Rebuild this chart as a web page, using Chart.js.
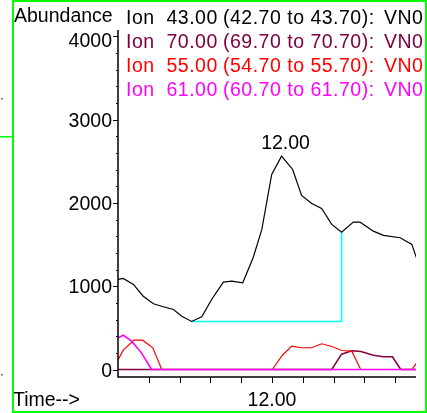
<!DOCTYPE html>
<html>
<head>
<meta charset="utf-8">
<script src="https://cdn.jsdelivr.net/npm/chart.js@4"></script>
<style>
    html, body { margin: 0; padding: 0; background: #fff; }
    canvas { display: block; }
</style>
</head>
<body>
<canvas id="tic" width="427" height="413"></canvas>
<script>
// ion 43.00 trace
var time43 = [11.500, 11.517, 11.550, 11.582, 11.615, 11.647, 11.680, 11.707, 11.739, 11.772, 11.804,
    11.842, 11.869, 11.905, 11.939, 11.967, 11.999, 12.031, 12.067, 12.096, 12.129, 12.161,
    12.194, 12.226, 12.264, 12.286, 12.329, 12.362, 12.416, 12.454, 12.470];
var abund43 = [1081, 1093, 1021, 880, 789, 753, 721, 640, 577, 633, 841,
    1049, 1061, 1041, 1345, 1682, 2342, 2562, 2402, 2090, 1994, 1934,
    1742, 1649, 1769, 1769, 1661, 1610, 1582, 1502, 1330];

// ion 70.00 trace
var time70 = [11.500, 12.194, 12.226, 12.259, 12.289, 12.329, 12.362, 12.391, 12.418, 12.470];
var abund70 = [0, 0, 184, 224, 216, 172, 152, 152, 0, 0];

// ion 55.00 trace
var time55 = [11.501, 11.517, 11.552, 11.580, 11.613, 11.642, 12.001, 12.033, 12.064, 12.096,
    12.129, 12.161, 12.194, 12.226, 12.259, 12.288, 12.454, 12.470];
var abund55 = [120, 232, 352, 352, 261, 0, 0, 168, 280, 261,
    261, 309, 276, 228, 220, 0, 0, 80];

// ion 61.00 trace
var time61 = [11.501, 11.517, 11.544, 11.576, 11.609, 12.470];
var abund61 = [381, 412, 340, 200, 0, 0];

// integration baseline of the peak
var baseTime = [11.739, 12.226, 12.226];
var baseAbund = [577, 577, 1649];

var peakTime = 12.031;
var peakAbund = 2562;
var peakLabel = '12.00';

var yTickLabels = [0, 1000, 2000, 3000, 4000];
var yMinorStep = 200;
var xTicks = [11.6, 11.7, 11.8, 11.9, 12.0, 12.1, 12.2, 12.3, 12.4];
var xTickLabels = [12.0];

var ionNames = ['43.00', '70.00', '55.00', '61.00'];
var ionRanges = ['(42.70 to 43.70):', '(69.70 to 70.70):', '(54.70 to 55.70):', '(60.70 to 61.70):'];
var ionColors = ['#000000', '#800040', '#ff0000', '#ff00ff'];

var FONT = '19.5px "Liberation Sans", Arial, sans-serif';

function toPoints(xs, ys) {
    var pts = [];
    for (var i = 0; i < xs.length; i++) {
        pts.push({ x: xs[i], y: ys[i] });
    }
    return pts;
}

var drawFrame = {
    id: 'drawFrame',
    afterDraw: function (chart) {
        var ctx = chart.ctx;
        var xs = chart.scales.x;
        var ys = chart.scales.y;
        var area = chart.chartArea;
        var i, px, py;

        ctx.save();

        // axes lines
        ctx.strokeStyle = '#000';
        ctx.lineWidth = 1.5;
        ctx.beginPath();
        ctx.moveTo(area.left, area.top);
        ctx.lineTo(area.left, area.bottom);
        ctx.lineTo(area.right, area.bottom);
        ctx.stroke();

        // y ticks, minor every 200, major at labels
        ctx.lineWidth = 1;
        ctx.beginPath();
        for (var v = 0; v <= yTickLabels[yTickLabels.length - 1]; v += yMinorStep) {
            py = Math.round(ys.getPixelForValue(v)) + 0.5;
            var len = (yTickLabels.indexOf(v) >= 0) ? 5 : 2;
            ctx.moveTo(area.left - len, py);
            ctx.lineTo(area.left, py);
        }
        // x ticks
        for (i = 0; i < xTicks.length; i++) {
            px = Math.round(xs.getPixelForValue(xTicks[i])) + 0.5;
            ctx.moveTo(px, area.bottom);
            ctx.lineTo(px, area.bottom + 6);
        }
        ctx.stroke();

        ctx.font = FONT;
        ctx.fillStyle = '#000';

        // y labels
        ctx.textAlign = 'right';
        ctx.textBaseline = 'alphabetic';
        for (i = 0; i < yTickLabels.length; i++) {
            py = ys.getPixelForValue(yTickLabels[i]) + 7;
            if (py < 46.5) py = 46.5;
            ctx.fillText(String(yTickLabels[i]), 112, py);
        }

        // x labels
        ctx.textAlign = 'center';
        for (i = 0; i < xTickLabels.length; i++) {
            px = xs.getPixelForValue(xTickLabels[i]);
            ctx.fillText(xTickLabels[i].toFixed(2), px, 406);
        }

        // peak label
        ctx.fillText(peakLabel, xs.getPixelForValue(peakTime) + 4, ys.getPixelForValue(peakAbund) - 7);

        ctx.textAlign = 'left';
        ctx.fillText('Abundance', 14, 22);
        ctx.fillText('Time-->', 13, 406);

        // ion legend, clipped by the frame
        ctx.save();
        ctx.beginPath();
        ctx.rect(0, 0, 425, 413);
        ctx.clip();
        ctx.letterSpacing = '0.5px';
        var rows = [23.5, 47.8, 72, 96];
        for (i = 0; i < ionNames.length; i++) {
            ctx.fillStyle = ionColors[i];
            ctx.fillText('Ion', 126, rows[i]);
            ctx.fillText(ionNames[i], 166.5, rows[i]);
            ctx.fillText(ionRanges[i], 223, rows[i]);
            ctx.fillText('VN0', 384, rows[i]);
        }
        ctx.restore();

        // green frame
        ctx.fillStyle = '#00ff00';
        ctx.fillRect(12, 0, 2, 413);
        ctx.fillRect(12, 0, 415, 2);
        ctx.fillRect(425, 0, 2, 413);
        ctx.fillRect(12, 411, 415, 2);
        ctx.fillRect(0, 136, 12, 1.5);
        ctx.fillRect(425, 29, 2, 2);

        ctx.fillStyle = '#777';
        ctx.fillRect(1, 98, 2, 1.5);
        ctx.fillRect(1, 374, 2, 1.5);

        ctx.restore();
    }
};

var canvas = document.getElementById('tic');

var chart = new Chart(canvas, {
    type: 'line',
    data: {
        datasets: [
            { data: toPoints(time43, abund43), borderColor: ionColors[0], borderWidth: 1.2, order: 3 },
            { data: toPoints(baseTime, baseAbund), borderColor: '#00ffff', borderWidth: 1.6, order: 4 },
            { data: toPoints(time70, abund70), borderColor: ionColors[1], borderWidth: 1.5, order: 2 },
            { data: toPoints(time55, abund55), borderColor: ionColors[2], borderWidth: 1.2, order: 1 },
            { data: toPoints(time61, abund61), borderColor: ionColors[3], borderWidth: 1.6, order: 0 }
        ]
    },
    options: {
        responsive: false,
        animation: false,
        layout: { padding: { left: 118, right: 11, top: 30, bottom: 36 } },
        plugins: {
            legend: { display: false },
            tooltip: { enabled: false }
        },
        elements: {
            point: { radius: 0 },
            line: { tension: 0, fill: false }
        },
        scales: {
            x: { type: 'linear', display: false, min: 11.5, max: 12.4675 },
            y: { display: false, min: -90, max: 4076 }
        }
    },
    plugins: [drawFrame]
});
</script>
</body>
</html>
